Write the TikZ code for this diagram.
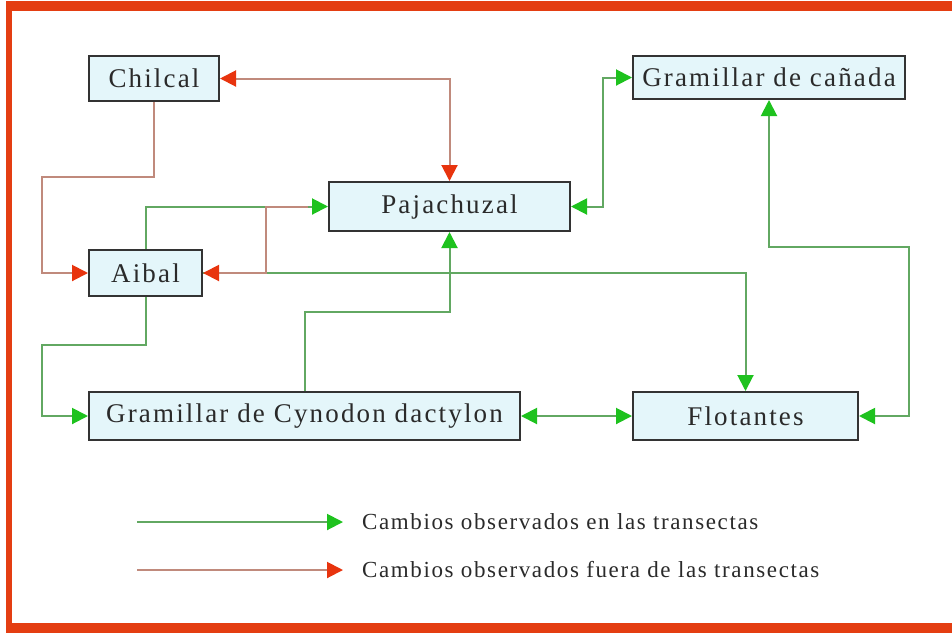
\documentclass[tikz,border=0pt]{standalone}
\usepackage{fontspec}
\usetikzlibrary{arrows.meta}
\newfontfamily\boxfont[LetterSpace=8]{Liberation Serif}
\newfontfamily\legfont[LetterSpace=7]{Liberation Serif}
\definecolor{frame}{HTML}{E43E12}
\definecolor{boxfill}{HTML}{E4F6FA}
\definecolor{glinec}{HTML}{62A862}
\definecolor{garrow}{HTML}{1EC21E}
\definecolor{rlinec}{HTML}{C08A7C}
\definecolor{rarrow}{HTML}{E8340E}
\definecolor{txt}{HTML}{2A2A2A}
\tikzset{
  box/.style={draw=black!80, line width=2pt, fill=boxfill, inner sep=0pt,
    text=txt, font=\boxfont\fontsize{27}{30}\selectfont},
  gline/.style={draw=glinec, line width=2pt},
  rline/.style={draw=rlinec, line width=2pt},
  tipG/.tip={Triangle[length=16pt,width=16pt,color=garrow]},
  tipR/.tip={Triangle[length=16pt,width=16pt,color=rarrow]},
  legtext/.style={anchor=west, inner sep=0pt, text=txt, font=\legfont\fontsize{23}{26}\selectfont}
}
\begin{document}
\begin{tikzpicture}[x=1pt,y=-1pt]
\useasboundingbox (0,0) rectangle (952,633);
\fill[white] (0,0) rectangle (952,633);
% frame bands
\fill[frame] (6,1) rectangle (952,11);
\fill[frame] (6,1) rectangle (12,633);
\fill[frame] (6,623) rectangle (952,633);

% nodes
\node[box, minimum width=130pt, minimum height=45pt] (ch) at (154,78.5) {Chilcal};
\node[box, minimum width=241pt, minimum height=49pt] (pj) at (449.5,206.5) {Pajachuzal};
\node[box, minimum width=113pt, minimum height=46pt] (ai) at (145.5,273) {Aibal};
\node[box, minimum width=272pt, minimum height=43pt] (gc) at (769,77.5) {Gramillar de cañada};
\node[box, minimum width=431pt, minimum height=48pt] (cy) at (304.5,416) {Gramillar de Cynodon dactylon};
\node[box, minimum width=225pt, minimum height=48pt] (fl) at (745.5,416) {Flotantes};

% helper coordinates
\coordinate (c1) at (42,177);
\coordinate (r0) at (308,206.5);
\coordinate (r1) at (266,206.5);
\coordinate (g1) at (42,345);
\coordinate (g2) at (449.5,312);
\coordinate (g3) at (603,206.5);
\coordinate (g4) at (909,247);

\begin{scope}[on background layer/.style={}]
% green connectors
\draw[gline,-tipG] (ai.north) |- (pj.west);
\draw[gline,-tipG] (ai.east) -| (fl.north);
\draw[gline,-tipG] (ai.south) |- (g1) |- (cy.west);
\draw[gline,-tipG] (cy.north) |- (g2) -- (pj.south);
\draw[gline,tipG-tipG] (cy.east) -- (fl.west);
\draw[gline,tipG-tipG] (pj.east) -- (g3) |- (gc.west);
\draw[gline,tipG-tipG] (fl.east) -| (g4) -| (gc.south);
% red connectors
\draw[rline,tipR-tipR] (ch.east) -| (pj.north);
\draw[rline,-tipR] (ch.south) |- (c1) |- (ai.west);
\draw[rline,-tipR] (r0) -- (r1) |- (ai.east);
\end{scope}

% redraw boxes on top of lines passing behind them
\node[box, minimum width=113pt, minimum height=46pt] at (ai) {Aibal};

% legend
\coordinate (l1s) at (137,522);
\coordinate (l1e) at (343,522);
\coordinate (l2s) at (137,570);
\coordinate (l2e) at (343,570);
\node[legtext] (t1) at (362,522) {Cambios observados en las transectas};
\node[legtext] (t2) at (362,570) {Cambios observados fuera de las transectas};
\draw[gline,-tipG] (l1s) -- (l1e);
\draw[rline,-tipR] (l2s) -- (l2e);
\end{tikzpicture}
\end{document}
